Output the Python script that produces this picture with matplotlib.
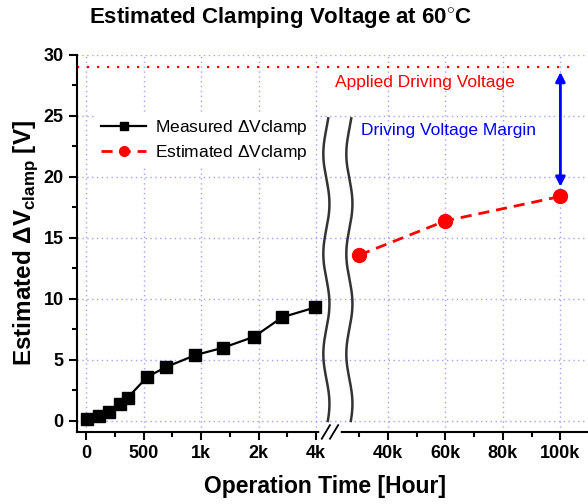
import numpy as np
import matplotlib.pyplot as plt
from matplotlib.transforms import blended_transform_factory

plt.rcParams['font.family'] = ['Liberation Sans', 'DejaVu Sans']
plt.rcParams['mathtext.fontset'] = 'custom'
plt.rcParams['mathtext.rm'] = 'Liberation Sans'
plt.rcParams['mathtext.bf'] = 'Liberation Sans:bold'

# measured clamping voltage shift vs operation time
meas_hours = [10, 110, 200, 290, 360, 530, 690, 950, 1380, 1920, 2820, 3960]
meas_dv = [0.2, 0.4, 0.7, 1.4, 1.9, 3.6, 4.4, 5.4, 6.0, 6.9, 8.5, 9.3]

# extrapolated values
est_hours = [30000, 60000, 100000]
est_dv = [13.6, 16.4, 18.4]

applied_voltage = 29
margin_top = 28.6
margin_bottom = 19.2

tick_hours = [0, 500, 1000, 2000, 4000, 40000, 60000, 80000, 100000]
tick_labels = ['0', '500', '1k', '2k', '4k', '40k', '60k', '80k', '100k']
minor_hours = [250, 750, 1500, 3000, 30000, 50000, 70000, 90000]

# piecewise x axis: 0..4k stretched, break, then 20k per step
knots_h = [-5000, 0, 500, 1000, 2000, 4000, 20000, 100000, 200000]
knots_p = [-10, 0, 1, 2, 3, 4, 4.25, 8.25, 13.25]


def fwd(x):
    return np.interp(x, knots_h, knots_p)


def inv(p):
    return np.interp(p, knots_p, knots_h)


fig = plt.figure(figsize=(5.88, 5.04), dpi=100)
ax = fig.add_axes([0.131, 0.143, 0.869, 0.748])
ax.set_xscale('function', functions=(fwd, inv))
ax.set_xlim(-80, 109600)
ax.set_ylim(-0.9, 30)

ax.grid(True, which='major', color='#a0a0ff', linestyle=(0, (1, 2.5)), lw=1)
ax.set_axisbelow(True)

ax.plot(meas_hours, meas_dv, color='black', lw=1.6, marker='s', ms=9,
        label=r'Measured $\Delta$Vclamp')
ax.plot(est_hours, est_dv, color='red', lw=2, ls=(0, (4, 2.5)), marker='o',
        ms=10, label=r'Estimated $\Delta$Vclamp')

ax.hlines(applied_voltage, -80, 105000, color='red', lw=1.6, ls=(0, (1, 3.5)))
ax.text(53000, 27.7, 'Applied Driving Voltage', color='red', fontsize=12.5,
        ha='center', va='center')
ax.text(30700, 23.8, 'Driving Voltage Margin', color='blue', fontsize=12.5,
        ha='left', va='center')
ax.annotate('', xy=(100000, margin_top), xytext=(100000, margin_bottom),
            arrowprops=dict(arrowstyle='<|-|>', color='blue', lw=2,
                            mutation_scale=14, shrinkA=0, shrinkB=0))

# wavy break lines
tr = blended_transform_factory(ax.transAxes, ax.transData)
yy = np.linspace(0, 24.8, 200)
for x0 in (0.488, 0.533):
    xx = x0 + 0.006 * np.sin(2 * np.pi * yy / 8.2 + 0.5)
    ax.plot(xx, yy, color='#333333', lw=1.8, transform=tr, clip_on=False)

ax.set_xticks(tick_hours)
ax.set_xticklabels(tick_labels)
ax.set_xticks(minor_hours, minor=True)
ax.set_yticks(np.arange(0, 31, 5))
ax.set_yticks(np.arange(2.5, 30, 5), minor=True)

for s in ('top', 'right'):
    ax.spines[s].set_visible(False)
for s in ('left', 'bottom'):
    ax.spines[s].set_linewidth(1.5)
ax.tick_params(which='major', direction='out', length=6, width=1.5,
               labelsize=13)
ax.tick_params(which='minor', direction='out', length=3.5, width=1.5)
for lbl in ax.get_xticklabels() + ax.get_yticklabels():
    lbl.set_fontweight('bold')

# break mark on the x axis
ax.plot([0.479, 0.511], [0, 0], color='white', lw=4, transform=ax.transAxes,
        clip_on=False, zorder=5)
for xb in (0.487, 0.503):
    ax.plot([xb - 0.008, xb + 0.008], [-0.018, 0.018], color='black', lw=1.3,
            transform=ax.transAxes, clip_on=False, zorder=6)

leg = ax.legend(loc='upper left', bbox_to_anchor=(0.02, 0.87), fontsize=12.5,
                frameon=True, fancybox=False, edgecolor='none',
                framealpha=1, handlelength=2.6, borderpad=0.3,
                labelspacing=0.35, handletextpad=0.5, markerscale=0.7)

ax.set_xlabel('Operation Time [Hour]', fontsize=16.5, fontweight='bold')
ax.xaxis.set_label_coords(0.485, -0.115)
ax.set_ylabel(r'Estimated $\mathbf{\Delta}$V$_{\mathbf{clamp}}$ [V]',
              fontsize=17.5, fontweight='bold', labelpad=3)
fig.text(0.478, 0.965, r'Estimated Clamping Voltage at 60$^{\circ}$C',
         fontsize=16, fontweight='bold', ha='center', va='center')

fig.savefig('out.png', dpi=100)
